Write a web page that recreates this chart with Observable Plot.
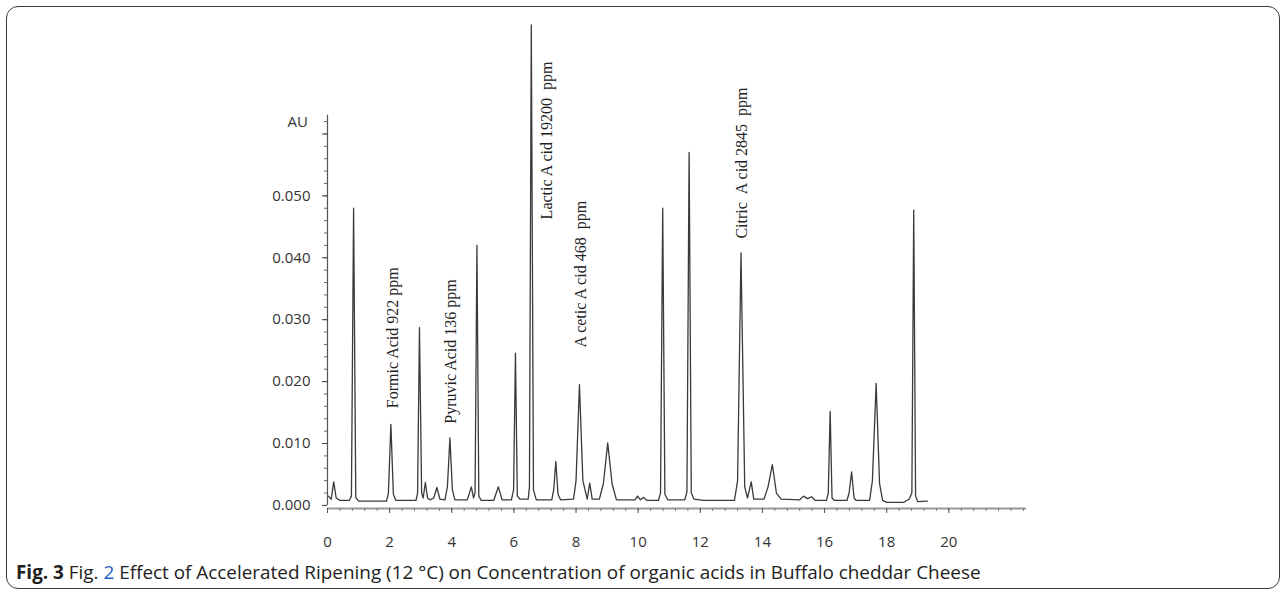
<!DOCTYPE html>
<html>
<head>
<meta charset="utf-8">
<script src="https://cdn.jsdelivr.net/npm/d3@7"></script>
<script src="https://cdn.jsdelivr.net/npm/@observablehq/plot@0.6"></script>
<style>
  html, body { margin: 0; padding: 0; background: #fff; }
  #wrap { position: relative; width: 1288px; height: 594px; overflow: hidden; }
  #frame { position: absolute; left: 6px; top: 6px; width: 1274px; height: 583px;
           border: 1.5px solid #3a3a3a; border-radius: 12px; box-sizing: border-box; }
  #chart { position: absolute; left: 0; top: 0; }
  #caption { position: absolute; left: 16px; top: 559px; font-family: "Open Sans", sans-serif;
             font-size: 18.9px; line-height: 26px; color: #222; white-space: nowrap; }
  #caption b { font-weight: 700; }
  #caption .ref { color: #1f5fbf; }
</style>
</head>
<body>
<div id="wrap">
  <div id="frame"></div>
  <div id="chart"></div>
  <div id="caption"><b>Fig. 3</b> Fig. <span class="ref">2</span> Effect of Accelerated Ripening (12 °C) on Concentration of organic acids in Buffalo cheddar Cheese</div>
</div>
<script>
// Retention time (min) of each traced point
const time = [
  0.03, 0.12, 0.20, 0.28, 0.40, 0.70, 0.77, 0.84, 0.91, 1.00,
  1.90, 1.96, 2.04, 2.12, 2.20, 2.85, 2.90, 2.96, 3.03, 3.08,
  3.15, 3.22, 3.30, 3.42, 3.52, 3.62, 3.78, 3.86, 3.94, 4.02,
  4.10, 4.50, 4.63, 4.70, 4.75, 4.81, 4.87, 4.95, 5.35, 5.50,
  5.62, 5.92, 5.99, 6.05, 6.11, 6.20, 6.46, 6.50, 6.56, 6.63,
  6.72, 7.22, 7.28, 7.35, 7.42, 7.50, 7.92, 8.00, 8.11, 8.22,
  8.36, 8.44, 8.52, 8.75, 8.88, 9.02, 9.16, 9.30, 9.90, 9.98,
  10.07, 10.18, 10.28, 10.65, 10.72, 10.79, 10.86, 10.95, 11.50, 11.57,
  11.64, 11.71, 11.80, 12.10, 13.10, 13.20, 13.31, 13.43, 13.52, 13.64,
  13.72, 14.05, 14.18, 14.32, 14.45, 14.60, 15.20, 15.32, 15.45, 15.58,
  15.70, 16.06, 16.12, 16.18, 16.24, 16.32, 16.72, 16.79, 16.87, 16.95,
  17.02, 17.45, 17.54, 17.66, 17.77, 17.87, 18.00, 18.55, 18.72, 18.81,
  18.87, 18.93, 19.00, 19.31
];
// Absorbance (AU) at each traced point
const absorbance = [
  0.0015, 0.0010, 0.0038, 0.0012, 0.0008, 0.0008, 0.0015, 0.0480, 0.0013, 0.0007,
  0.0007, 0.0020, 0.0131, 0.0018, 0.0008, 0.0008, 0.0020, 0.0287, 0.0020, 0.0012,
  0.0037, 0.0012, 0.0009, 0.0012, 0.0029, 0.0010, 0.0009, 0.0030, 0.0109, 0.0025,
  0.0009, 0.0009, 0.0030, 0.0012, 0.0020, 0.0420, 0.0015, 0.0008, 0.0008, 0.0030,
  0.0009, 0.0009, 0.0025, 0.0246, 0.0015, 0.0010, 0.0010, 0.0030, 0.0776, 0.0025,
  0.0009, 0.0009, 0.0025, 0.0071, 0.0018, 0.0009, 0.0010, 0.0040, 0.0195, 0.0040,
  0.0010, 0.0036, 0.0010, 0.0010, 0.0035, 0.0101, 0.0035, 0.0009, 0.0009, 0.0015,
  0.0009, 0.0013, 0.0008, 0.0008, 0.0020, 0.0480, 0.0018, 0.0009, 0.0009, 0.0022,
  0.0570, 0.0020, 0.0010, 0.0008, 0.0008, 0.0040, 0.0408, 0.0030, 0.0012, 0.0038,
  0.0010, 0.0010, 0.0030, 0.0066, 0.0020, 0.0010, 0.0009, 0.0015, 0.0011, 0.0014,
  0.0008, 0.0008, 0.0020, 0.0152, 0.0012, 0.0008, 0.0008, 0.0020, 0.0054, 0.0012,
  0.0008, 0.0008, 0.0040, 0.0197, 0.0035, 0.0008, 0.0005, 0.0005, 0.0010, 0.0020,
  0.0477, 0.0015, 0.0006, 0.0007
];
// Peak annotations
const peakNames = ["Formic Acid 922 ppm", "Pyruvic Acid 136 ppm", "Lactic A cid 19200\u00a0\u00a0ppm", "A cetic A cid 468\u00a0\u00a0ppm", "Citric\u00a0\u00a0A cid 2845\u00a0\u00a0ppm"];
const peakLabelTime = [2.09, 3.96, 7.05, 8.15, 13.33];
const peakLabelAU = [0.0157, 0.0132, 0.0462, 0.0255, 0.0431];
// Axis ticks
const xTicks = [0, 2, 4, 6, 8, 10, 12, 14, 16, 18, 20];
const xMinor = d3.range(0, 22.41, 0.4);
const yTicks = [0, 0.01, 0.02, 0.03, 0.04, 0.05, 0.06];
const yTickLabels = ["0.000", "0.010", "0.020", "0.030", "0.040", "0.050", ""];
const yMinor = d3.range(0, 0.0621, 0.002);
const yLabel = "AU";
const yLabelAU = 0.0619;
const xMax = 22.5;
const yAxisTop = 0.063;

const trace = time.map((t, i) => ({t, v: absorbance[i]}));
const labels = peakNames.map((name, i) => ({name, t: peakLabelTime[i], v: peakLabelAU[i]}));

const chart = Plot.plot({
  width: 1288,
  height: 555,
  marginLeft: 327,
  marginRight: 262,
  marginTop: 22,
  marginBottom: 47,
  style: {fontFamily: "'Open Sans', sans-serif", fontSize: "15px", color: "#333", background: "transparent"},
  x: {domain: [0, xMax], label: null},
  y: {domain: [-0.0005, 0.078], label: null},
  marks: [
    // y axis
    Plot.ruleX([0], {y1: 0, y2: yAxisTop, stroke: "#555", strokeWidth: 1.2}),
    Plot.axisY({ticks: yMinor, tickSize: 3, text: null, label: null, stroke: "#666"}),
    Plot.axisY({ticks: yTicks, tickSize: 5, tickPadding: 12, stroke: "#444",
                tickFormat: (d) => yTickLabels[yTicks.indexOf(d)] ?? "", label: null, fill: "#333", fontSize: 15}),
    Plot.text([{label: yLabel, v: yLabelAU}], {y: "v", text: "label", frameAnchor: "left", dx: -40, fill: "#333", fontSize: 15}),
    // x axis
    Plot.ruleY([-0.0005], {x1: 0, x2: xMax, stroke: "#999", strokeWidth: 2}),
    Plot.axisX({ticks: xMinor, tickSize: 3, text: null, label: null, stroke: "#777"}),
    Plot.axisX({ticks: xTicks, tickSize: 5, tickPadding: 23, stroke: "#555", label: null, fill: "#333", fontSize: 15}),
    // chromatogram
    Plot.line(trace, {x: "t", y: "v", stroke: "#3a3a3a", strokeWidth: 1.3, clip: false}),
    // peak labels
    Plot.text(labels, {x: "t", y: "v", text: "name", rotate: -90, textAnchor: "start",
                       fontFamily: "'Liberation Serif', 'Times New Roman', serif", fontSize: 16, fill: "#222"})
  ]
});
document.getElementById("chart").appendChild(chart);
</script>
</body>
</html>
